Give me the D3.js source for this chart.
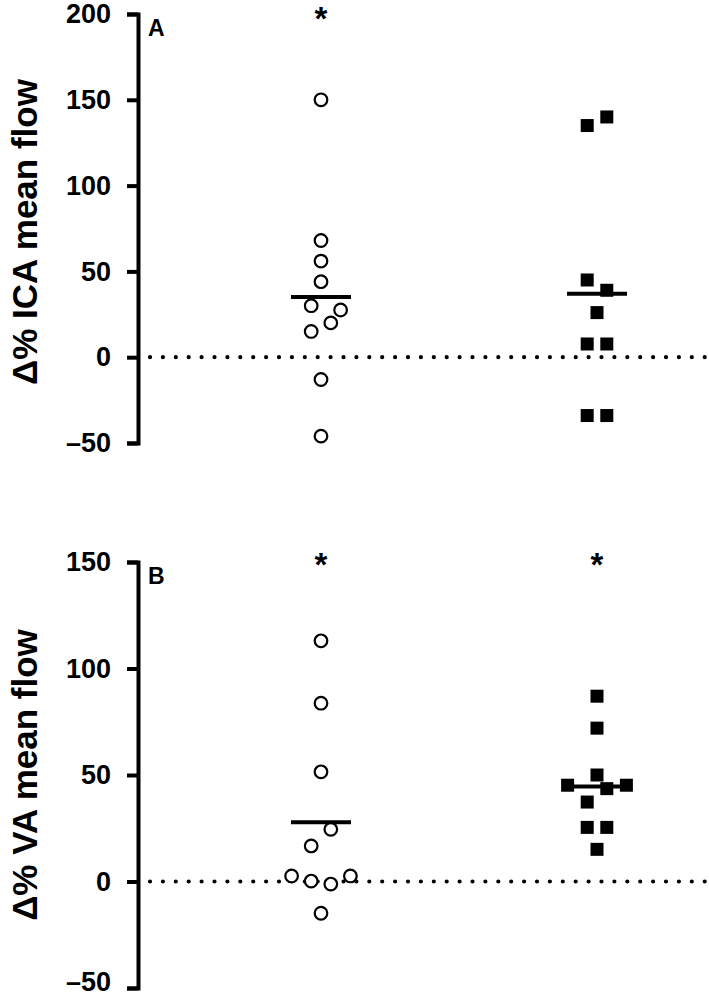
<!DOCTYPE html>
<html>
<head>
<meta charset="utf-8">
<script src="https://cdn.jsdelivr.net/npm/d3@7"></script>
<style>
  body { margin: 0; background: #fff; }
  text { font-family: "Liberation Sans", Arial, sans-serif; font-weight: bold; }
</style>
</head>
<body>
<div id="chart"></div>
<script>
// groups (open circles = first group, filled squares = second group)
var groups = ["open", "filled"];

// panel A: ICA mean flow change (%)
var icaOpen = [150, 68, 56, 44, 30, 27.5, 20, 15, -13, -46];
var icaOpenSlot = [0, 0, 0, 0, -1, 2, 1, -1, 0, 0];
var icaFilled = [135, 140, 45, 39, 26, 7.7, 7.7, -34, -34];
var icaFilledSlot = [-1, 1, -1, 1, 0, -1, 1, -1, 1];
var icaTicks = [-50, 0, 50, 100, 150, 200];
var icaStars = ["open"];

// panel B: VA mean flow change (%)
var vaOpen = [113, 83.7, 51.5, 24.5, 16.7, 2.6, 0.2, -1.2, 2.6, -14.9];
var vaOpenSlot = [0, 0, 0, 1, -1, -3, -1, 1, 3, 0];
var vaFilled = [87, 72, 50, 45.2, 45.2, 43.6, 37.3, 25.4, 25.4, 15.1];
var vaFilledSlot = [0, 0, 0, -3, 3, 1, -1, -1, 1, 0];
var vaTicks = [-50, 0, 50, 100, 150];
var vaStars = ["open", "filled"];

var svg = d3.select("#chart")
  .append("svg")
    .attr("width", 709)
    .attr("height", 998);

var axisX = 138;
var slotW = 9.8;

var x = d3.scalePoint()
  .domain(groups)
  .range([321, 597]);

var fmt = function (d) { return d < 0 ? "\u2013" + Math.abs(d) : d; };

function drawPanel(cfg) {
  var y = d3.scaleLinear()
    .domain(cfg.domain)
    .range(cfg.range);

  var g = svg.append("g");

  // zero reference line (dotted)
  g.append("line")
    .attr("x1", axisX + 12)
    .attr("x2", 712)
    .attr("y1", y(0))
    .attr("y2", y(0))
    .style("stroke", "#000")
    .style("stroke-width", 4.2)
    .style("stroke-linecap", "round")
    .style("stroke-dasharray", "0 12.9");

  // y axis
  var ax = g.append("g")
    .attr("transform", "translate(" + axisX + ",0)")
    .call(d3.axisLeft(y).tickValues(cfg.ticks).tickFormat(fmt)
      .tickSize(11).tickSizeOuter(11).tickPadding(16));
  ax.select(".domain").style("stroke-width", 4);
  ax.selectAll(".tick line").style("stroke-width", 4);
  ax.selectAll(".tick text")
    .style("font-size", "27px")
    .attr("fill", "#000");
  // keep the lowest label inside the page
  if (cfg.nudgeBottom) {
    ax.selectAll(".tick text")
      .filter(function (d) { return d === cfg.domain[0]; })
      .attr("y", -cfg.nudgeBottom);
  }

  // axis title
  g.append("text")
    .attr("transform", "translate(37," + cfg.titleY + ") rotate(-90)")
    .attr("text-anchor", "middle")
    .style("font-size", "35px")
    .text(cfg.title);

  // panel letter
  g.append("text")
    .attr("x", axisX + 10)
    .attr("y", y(cfg.domain[1]) + 22)
    .style("font-size", "23px")
    .text(cfg.letter);

  // open circles
  g.selectAll(".circ")
    .data(cfg.open)
    .enter()
    .append("circle")
      .attr("cx", function (d, i) { return x("open") + cfg.openSlot[i] * slotW; })
      .attr("cy", function (d) { return y(d); })
      .attr("r", 6.3)
      .style("fill", "#fff")
      .style("stroke", "#000")
      .style("stroke-width", 2.2);

  // filled squares
  g.selectAll(".sq")
    .data(cfg.filled)
    .enter()
    .append("rect")
      .attr("x", function (d, i) { return x("filled") + cfg.filledSlot[i] * slotW - 6.5; })
      .attr("y", function (d) { return y(d) - 6.5; })
      .attr("width", 13)
      .attr("height", 13)
      .style("fill", "#000");

  // mean lines
  var means = [d3.mean(cfg.open), d3.mean(cfg.filled)];
  g.selectAll(".mean")
    .data(groups)
    .enter()
    .append("line")
      .attr("x1", function (d) { return x(d) - 30; })
      .attr("x2", function (d) { return x(d) + 30; })
      .attr("y1", function (d, i) { return y(means[i]); })
      .attr("y2", function (d, i) { return y(means[i]); })
      .style("stroke", "#000")
      .style("stroke-width", 4);

  // significance stars
  g.selectAll(".star")
    .data(cfg.stars)
    .enter()
    .append("text")
      .attr("x", function (d) { return x(d); })
      .attr("y", cfg.starY)
      .attr("text-anchor", "middle")
      .style("font-size", "33px")
      .text("*");
}

drawPanel({
  domain: [-50, 200], range: [443, 14], ticks: icaTicks,
  open: icaOpen, openSlot: icaOpenSlot,
  filled: icaFilled, filledSlot: icaFilledSlot,
  stars: icaStars, starY: 30,
  title: "\u0394% ICA mean flow", titleY: 232, letter: "A"
});

drawPanel({
  domain: [-50, 150], range: [988, 562], ticks: vaTicks,
  open: vaOpen, openSlot: vaOpenSlot,
  filled: vaFilled, filledSlot: vaFilledSlot,
  stars: vaStars, starY: 576, nudgeBottom: 6,
  title: "\u0394% VA mean flow", titleY: 775, letter: "B"
});
</script>
</body>
</html>
